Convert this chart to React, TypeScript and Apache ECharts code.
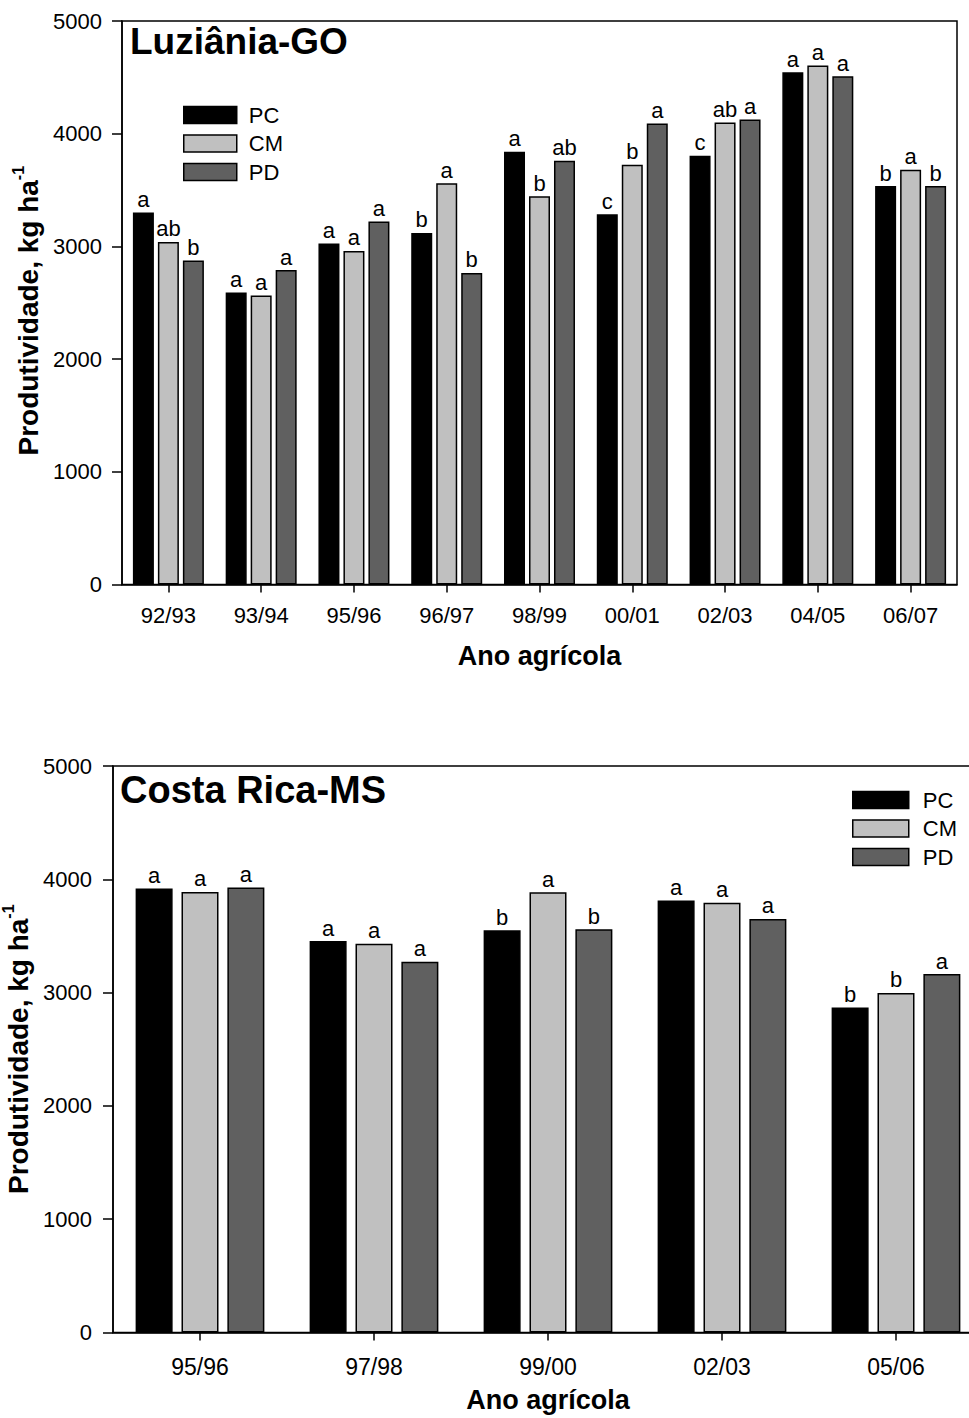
import React, { useEffect, useRef } from "react";
import * as echarts from "echarts";

const FONT = '"Liberation Sans", Arial, Helvetica, sans-serif';

const topYears = ["92/93", "93/94", "95/96", "96/97", "98/99", "00/01", "02/03", "04/05", "06/07"];
const topPC = [3300, 2590, 3025, 3120, 3840, 3285, 3805, 4545, 3535];
const topCM = [3040, 2565, 2960, 3560, 3445, 3725, 4100, 4605, 3680];
const topPD = [2875, 2790, 3220, 2765, 3760, 4090, 4125, 4510, 3535];
const topPCL = ["a", "a", "a", "b", "a", "c", "c", "a", "b"];
const topCML = ["ab", "a", "a", "a", "b", "b", "ab", "a", "a"];
const topPDL = ["b", "a", "a", "b", "ab", "a", "a", "a", "b"];

const botYears = ["95/96", "97/98", "99/00", "02/03", "05/06"];
const botPC = [3918, 3455, 3550, 3812, 2868];
const botCM = [3888, 3432, 3885, 3794, 2997];
const botPD = [3927, 3273, 3559, 3650, 3164];
const botPCL = ["a", "a", "b", "a", "b"];
const botCML = ["a", "a", "a", "a", "b"];
const botPDL = ["a", "a", "b", "a", "a"];

const seriesNames = ["PC", "CM", "PD"];
const colors = ["#000000", "#c0c0c0", "#606060"];
const yTicks = [0, 1000, 2000, 3000, 4000, 5000];

function makeBar(name: string, color: string, values: number[], letters: string[], idx: number, barWidth: number, barGap: string) {
  return {
    type: "bar",
    name,
    xAxisIndex: idx,
    yAxisIndex: idx,
    barWidth,
    barGap,
    data: values,
    itemStyle: { color, borderColor: "#000", borderWidth: 1.5 },
    label: {
      show: true,
      position: "top",
      distance: 2,
      fontSize: 22,
      fontFamily: FONT,
      color: "#000",
      formatter: (p: any) => letters[p.dataIndex],
    },
  };
}

function yAxisCfg(idx: number, gap: number, shift: number, labelMargin: number) {
  return {
    type: "value",
    gridIndex: idx,
    min: yTicks[0],
    max: yTicks[yTicks.length - 1],
    interval: 1000,
    name: "{n|Produtividade, kg ha}{s|-1}",
    nameLocation: "middle",
    nameGap: gap,
    nameTextStyle: {
      padding: [0, shift, 0, 0],
      rich: {
        n: { fontSize: 28, fontWeight: "bold", fontFamily: FONT, color: "#000", lineHeight: 32, verticalAlign: "bottom" },
        s: { fontSize: 16, fontWeight: "bold", fontFamily: FONT, color: "#000", lineHeight: 32, verticalAlign: "top", padding: [0, 0, 12, 0] },
      },
    },
    axisLine: { show: true, lineStyle: { color: "#000", width: 1.5 } },
    axisTick: { show: true, inside: false, length: 10, lineStyle: { color: "#000", width: 1.5 } },
    axisLabel: { fontSize: 22, fontFamily: FONT, color: "#000", margin: labelMargin, formatter: (v: number) => String(v) },
    splitLine: { show: false },
  };
}

function xAxisCfg(idx: number, cats: string[], margin: number, gap: number, fs: number) {
  return {
    type: "category",
    gridIndex: idx,
    data: cats,
    name: "Ano agrícola",
    nameLocation: "middle",
    nameGap: gap,
    nameTextStyle: { fontSize: 27, fontWeight: "bold", fontFamily: FONT, color: "#000" },
    axisLine: { show: true, lineStyle: { color: "#000", width: 1.5 } },
    axisTick: { show: true, alignWithLabel: true, length: 8, lineStyle: { color: "#000", width: 1.5 } },
    axisLabel: { fontSize: fs, fontFamily: FONT, color: "#000", margin, interval: 0 },
    splitLine: { show: false },
  };
}

export default function App() {
  const ref = useRef<HTMLDivElement>(null);
  useEffect(() => {
    if (!ref.current) return;
    const chart = echarts.init(ref.current, undefined, { renderer: "svg" });
    const option: any = {
      animation: false,
      backgroundColor: "#fff",
      title: [
        { text: "Luziânia-GO", left: 130, top: 23, padding: 0, textStyle: { fontSize: 37, fontWeight: "bold", fontFamily: FONT, color: "#000" } },
        { text: "Costa Rica-MS", left: 120, top: 771, padding: 0, textStyle: { fontSize: 38, fontWeight: "bold", fontFamily: FONT, color: "#000" } },
      ],
      legend: [
        {
          data: seriesNames,
          orient: "vertical",
          left: 183,
          top: 104,
          padding: 0,
          itemWidth: 53,
          itemHeight: 17,
          itemGap: 6.5,
          icon: "rect",
          selectedMode: false,
          itemStyle: { borderColor: "#000", borderWidth: 1.5 },
          textStyle: { fontSize: 22, fontFamily: FONT, color: "#000", lineHeight: 17, padding: [0, 0, 0, 7] },
        },
        {
          data: seriesNames,
          orient: "vertical",
          left: 852,
          top: 789,
          padding: 0,
          itemWidth: 56,
          itemHeight: 17,
          itemGap: 6.5,
          icon: "rect",
          selectedMode: false,
          itemStyle: { borderColor: "#000", borderWidth: 1.5 },
          textStyle: { fontSize: 22, fontFamily: FONT, color: "#000", lineHeight: 17, padding: [0, 0, 0, 9] },
        },
      ],
      grid: [
        { left: 122, right: 12, top: 21, bottom: 1418 - 584.5, outerBoundsMode: "none", containLabel: false, show: true, borderColor: "#000", borderWidth: 1.5, backgroundColor: "transparent" },
        { left: 113, width: 870, top: 766, bottom: 1418 - 1332.5, outerBoundsMode: "none", containLabel: false, show: true, borderColor: "#000", borderWidth: 1.5, backgroundColor: "transparent" },
      ],
      xAxis: [xAxisCfg(0, topYears, 20, 58, 22), xAxisCfg(1, botYears, 23, 54, 23)],
      yAxis: [yAxisCfg(0, 76, 16, 20), yAxisCfg(1, 79, 0, 21)],
      series: [
        makeBar("PC", colors[0], topPC, topPCL, 0, 21, "19%"),
        makeBar("CM", colors[1], topCM, topCML, 0, 21, "19%"),
        makeBar("PD", colors[2], topPD, topPDL, 0, 21, "19%"),
        makeBar("PC", colors[0], botPC, botPCL, 1, 37, "24%"),
        makeBar("CM", colors[1], botCM, botCML, 1, 37, "24%"),
        makeBar("PD", colors[2], botPD, botPDL, 1, 37, "24%"),
      ],
    };
    chart.setOption(option);
    return () => chart.dispose();
  }, []);
  return <div ref={ref} style={{ position: "absolute", left: 0, top: 0, width: 969, height: 1418 }} />;
}
